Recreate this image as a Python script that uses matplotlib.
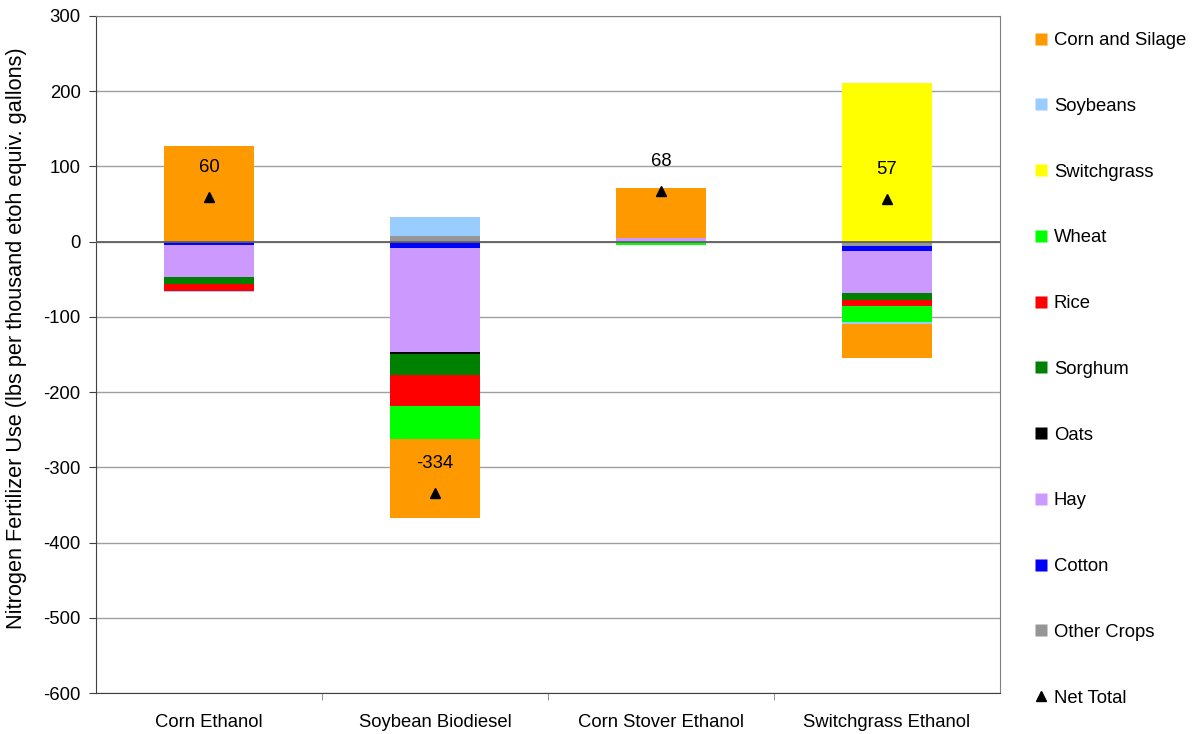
import matplotlib
matplotlib.use("Agg")
import matplotlib.pyplot as plt
from matplotlib.lines import Line2D
import numpy as np

plt.rcParams['font.family'] = ['Liberation Sans', 'DejaVu Sans']

categories = ["Corn Ethanol", "Soybean Biodiesel", "Corn Stover Ethanol", "Switchgrass Ethanol"]

# stacking order (from zero outward)
other_crops = [0.0, 7.6, 0.0, -5.5]
cotton      = [-4.4, -8.0, 0.0, -6.9]
hay         = [-42.1, -138.6, 5.3, -55.8]
oats        = [0.0, -2.7, 0.0, 0.0]
sorghum     = [-9.5, -28.0, 0.0, -9.3]
rice        = [-10.0, -40.8, 0.0, -8.0]
wheat       = [0.0, -44.0, -4.0, -21.3]
switchgrass = [0.0, 0.0, 0.0, 211.2]
soybeans    = [-1.0, 25.6, 0.0, -2.6]
corn_silage = [127.0, -105.0, 66.5, -44.8]
net_total   = [60, -334, 68, 57]

series = [
    ("Other Crops", other_crops, "#969696"),
    ("Cotton", cotton, "#0000FF"),
    ("Hay", hay, "#CC99FF"),
    ("Oats", oats, "#000000"),
    ("Sorghum", sorghum, "#008000"),
    ("Rice", rice, "#FF0000"),
    ("Wheat", wheat, "#00FF00"),
    ("Switchgrass", switchgrass, "#FFFF00"),
    ("Soybeans", soybeans, "#99CCFF"),
    ("Corn and Silage", corn_silage, "#FF9900"),
]

FS = 13.3

fig = plt.figure(figsize=(11.94, 7.34), dpi=100)
ax = fig.add_axes([96/1194, 1-693/734, (1000-96)/1194, (693-16)/734])

x = np.arange(len(categories))
pos_bottom = np.zeros(len(categories))
neg_bottom = np.zeros(len(categories))
handles = {}
for name, vals, col in series:
    v = np.array(vals, dtype=float)
    b = np.where(v >= 0, pos_bottom, neg_bottom)
    ax.bar(x, v, 0.4, bottom=b, color=col, edgecolor='none', zorder=3)
    pos_bottom = pos_bottom + np.where(v >= 0, v, 0)
    neg_bottom = neg_bottom + np.where(v < 0, v, 0)
    handles[name] = Line2D([], [], marker='s', linestyle='none', markersize=8.6,
                           markerfacecolor=col, markeredgecolor='none')

ax.plot(x, net_total, linestyle='none', marker='^', color='black', markersize=7, zorder=5)
for xi, nv in zip(x, net_total):
    ax.annotate(str(nv), (xi, nv), xytext=(0, 21), textcoords='offset points',
                ha='center', va='center', fontsize=FS, zorder=6)

ax.set_xlim(-0.5, 3.5)
ax.set_ylim(-600, 300)
ax.set_yticks(np.arange(-600, 301, 100))
ax.set_yticklabels([str(v) for v in range(-600, 301, 100)], fontsize=FS)
ax.yaxis.grid(True, color='#a0a0a0', linewidth=1, zorder=0)
ax.set_axisbelow(True)
ax.axhline(0, color='#606060', linewidth=1.3, zorder=4)
ax.set_xticks(x)
ax.set_xticklabels(categories, fontsize=FS)
ax.tick_params(axis='x', length=0, pad=15)
ax.set_xticks(np.arange(0.5, 3.5, 1), minor=True)
ax.tick_params(axis='x', which='minor', length=5, color='#808080')
ax.tick_params(axis='y', length=5, color='#404040', pad=6)
for s in ['top', 'right']:
    ax.spines[s].set_color('#808080')
for s in ['left', 'bottom']:
    ax.spines[s].set_color('#404040')
fig.text(17/1194, 1-338/734, "Nitrogen Fertilizer Use (lbs per thousand etoh equiv. gallons)",
         rotation=90, ha='center', va='center', fontsize=15.7)

legend_order = ["Corn and Silage", "Soybeans", "Switchgrass", "Wheat", "Rice", "Sorghum",
                "Oats", "Hay", "Cotton", "Other Crops"]
lh = [handles[n] for n in legend_order]
lh.append(Line2D([], [], marker='^', linestyle='none', markersize=7, color='black'))
labels = legend_order + ["Net Total"]
fig.legend(lh, labels, loc='upper left', bbox_to_anchor=(1028/1194, 1-32/734), frameon=False,
           fontsize=FS, labelspacing=2.64, handletextpad=0.0, handlelength=1.4, borderaxespad=0,
           borderpad=0)

fig.savefig("out.png", dpi=100, facecolor='white')
